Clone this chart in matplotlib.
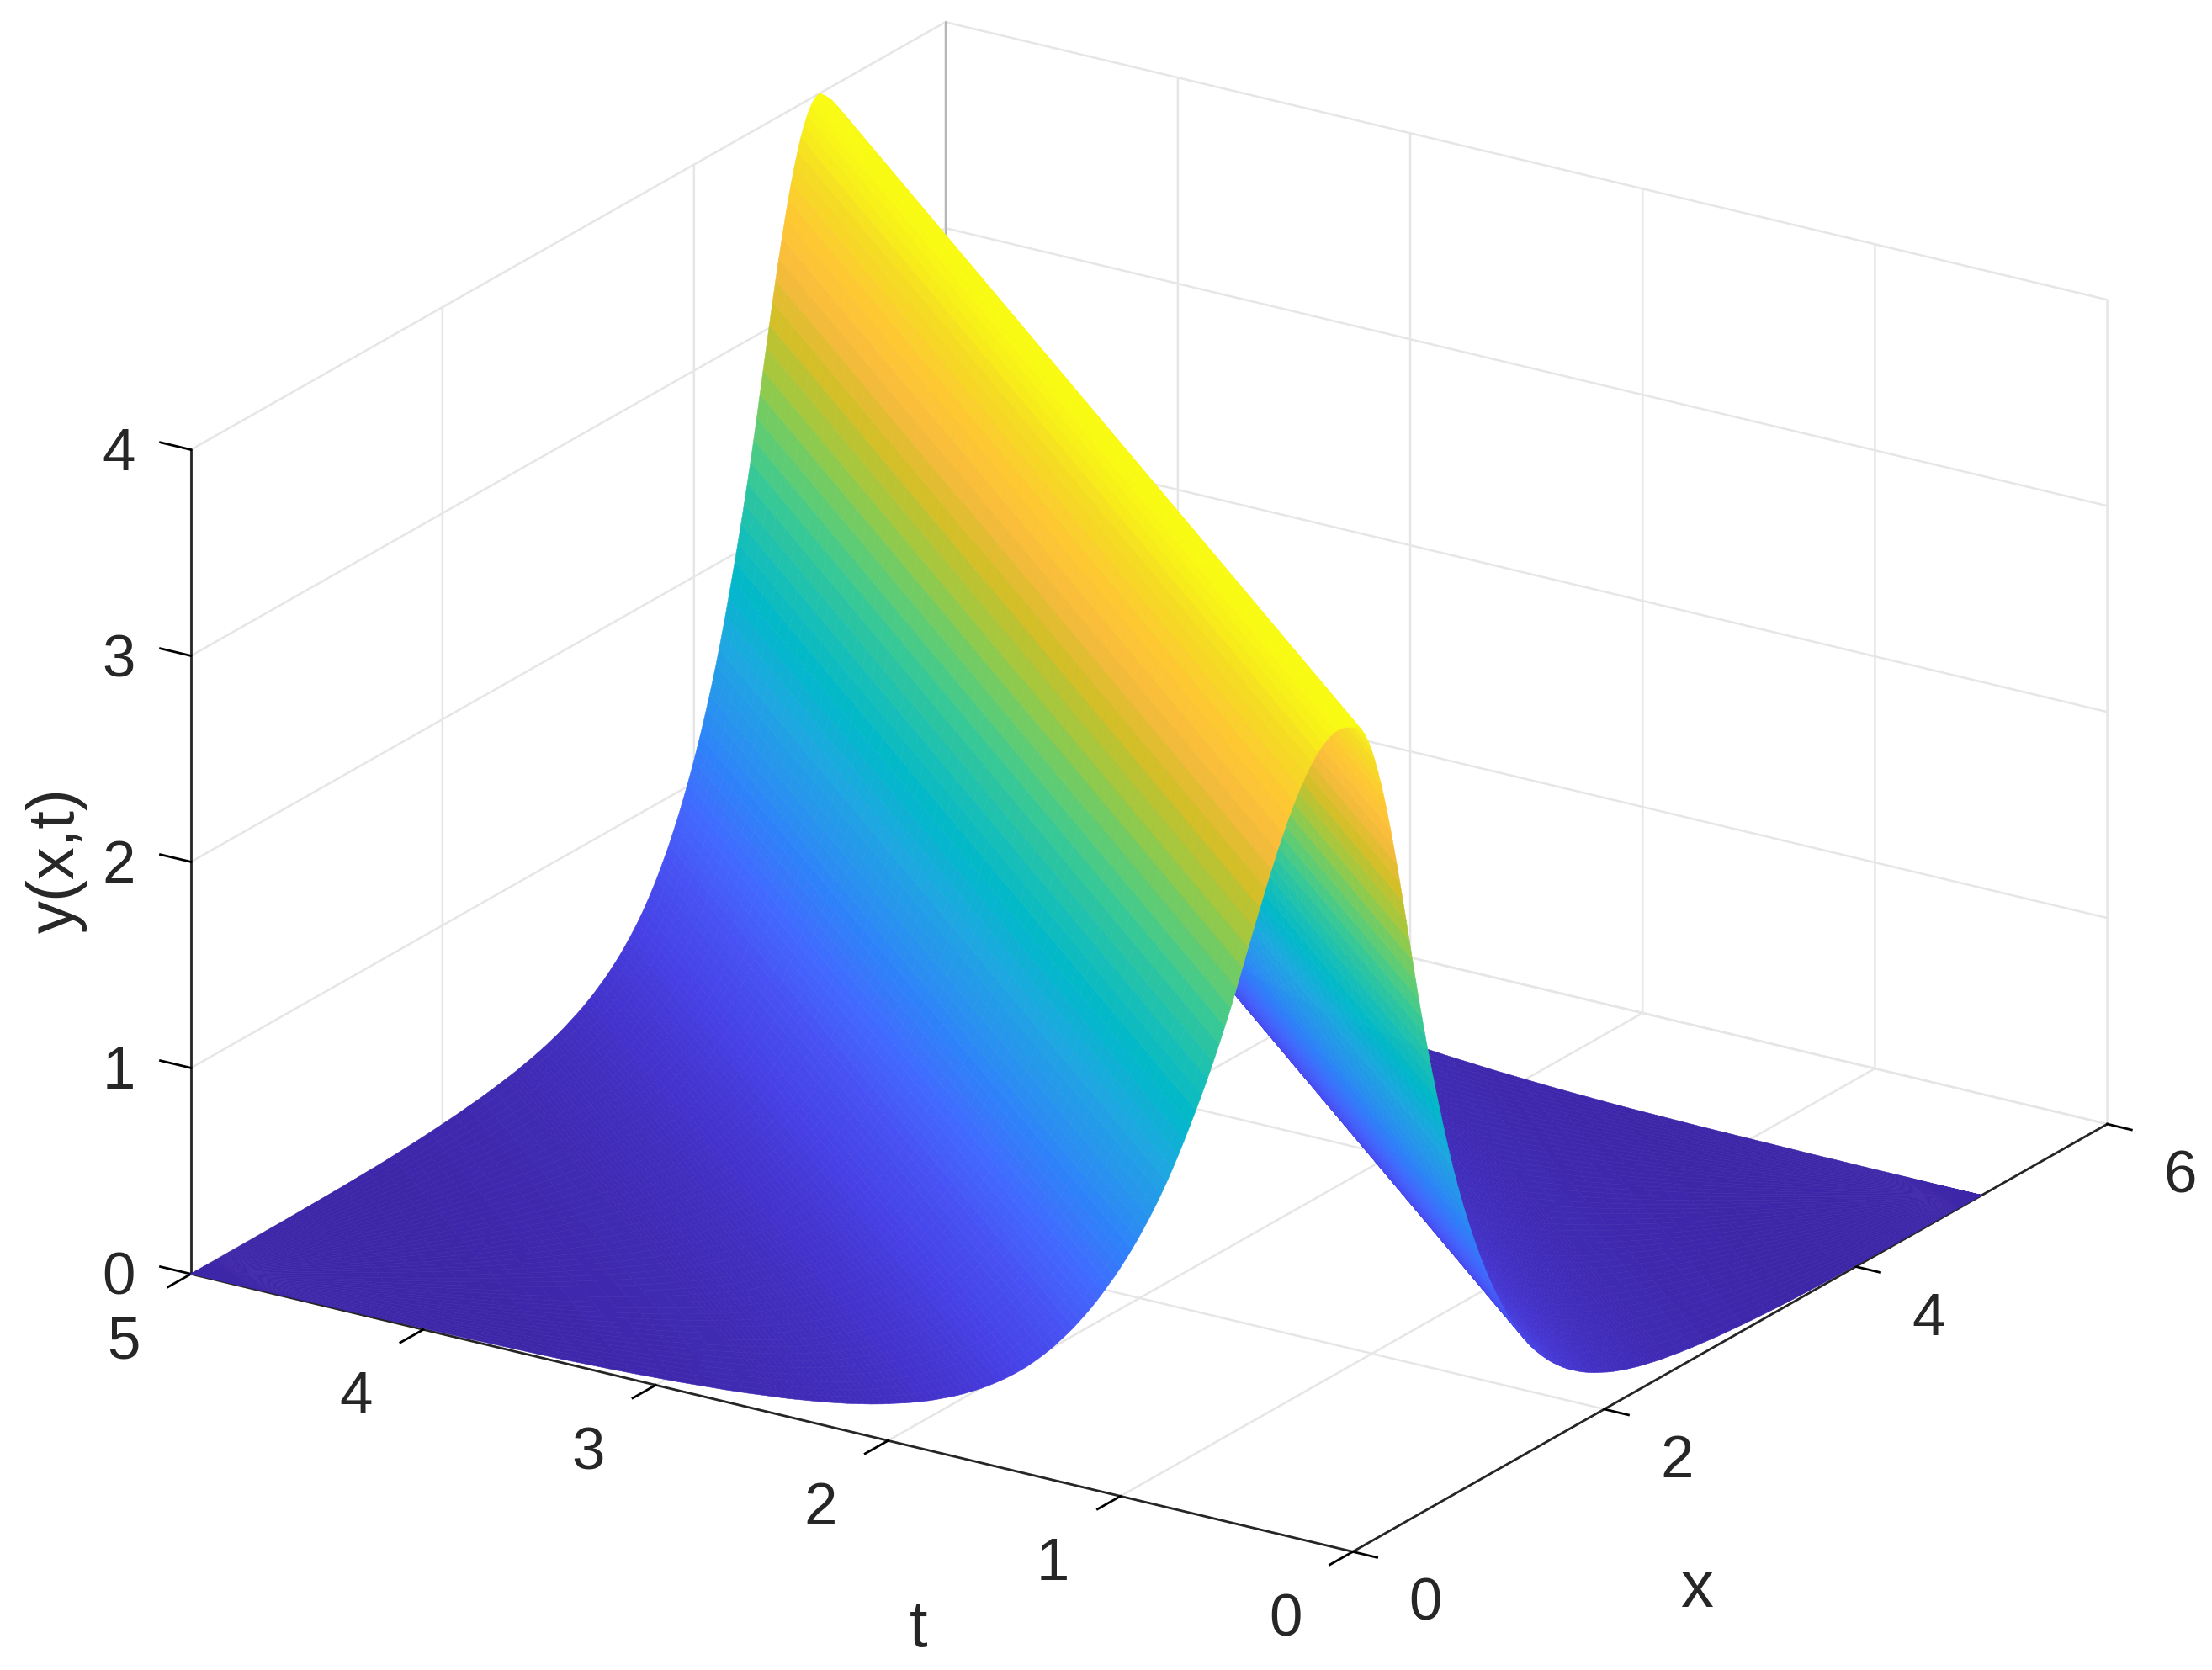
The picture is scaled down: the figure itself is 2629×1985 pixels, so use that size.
import numpy as np
import matplotlib
matplotlib.use('Agg')
import matplotlib.pyplot as plt
from matplotlib.colors import LinearSegmentedColormap

plt.rcParams['font.family'] = ['Liberation Sans', 'DejaVu Sans']

# ridge height against distance |x - t|
# step 0.025 up to 2.5, then step 0.1 out to 5
ridge_dist = np.concatenate([np.arange(101) * 0.025, 2.5 + np.arange(1, 26) * 0.1])
ridge_height = [
    4.000, 3.995, 3.982, 3.959, 3.927, 3.886, 3.838, 3.781, 3.717, 3.647,
    3.571, 3.489, 3.402, 3.311, 3.215, 3.117, 3.016, 2.914, 2.810, 2.705,
    2.600, 2.499, 2.402, 2.308, 2.217, 2.129, 2.044, 1.961, 1.881, 1.802,
    1.725, 1.651, 1.580, 1.512, 1.447, 1.385, 1.326, 1.268, 1.213, 1.160,
    1.109, 1.060, 1.014, 0.968, 0.924, 0.882, 0.842, 0.804, 0.766, 0.731,
    0.698, 0.665, 0.633, 0.604, 0.576, 0.549, 0.523, 0.499, 0.476, 0.455,
    0.434, 0.415, 0.396, 0.378, 0.361, 0.345, 0.330, 0.315, 0.301, 0.288,
    0.276, 0.264, 0.252, 0.241, 0.231, 0.221, 0.212, 0.203, 0.195, 0.187,
    0.179, 0.171, 0.164, 0.157, 0.151, 0.145, 0.139, 0.133, 0.128, 0.123,
    0.118, 0.113, 0.109, 0.105, 0.101, 0.097, 0.093, 0.089, 0.086, 0.083,
    0.080,
    0.068, 0.058, 0.050, 0.042, 0.036, 0.030, 0.025, 0.021, 0.017, 0.014,
    0.012, 0.010, 0.008, 0.007, 0.006, 0.005, 0.004, 0.003, 0.003, 0.002,
    0.002, 0.002, 0.001, 0.001, 0.001,
]

x_ticks = [0, 2, 4, 6]
t_ticks = [0, 1, 2, 3, 4, 5]
y_ticks = [0, 1, 2, 3, 4]

parula_colors = [
    (0.2422, 0.1504, 0.6603), (0.2647, 0.1978, 0.7952), (0.2783, 0.2559, 0.8991),
    (0.2810, 0.3228, 0.9579), (0.2602, 0.4123, 0.9952), (0.1834, 0.5074, 0.9798),
    (0.1540, 0.5902, 0.9218), (0.1113, 0.6635, 0.8763), (0.0036, 0.7203, 0.7917),
    (0.0964, 0.7500, 0.7120), (0.2161, 0.7843, 0.5923), (0.3909, 0.8029, 0.4354),
    (0.6174, 0.7876, 0.2612), (0.8203, 0.7498, 0.1535), (0.9728, 0.7298, 0.2394),
    (0.9952, 0.7861, 0.1967), (0.9610, 0.8634, 0.1357), (0.9769, 0.9839, 0.0805),
]
parula = LinearSegmentedColormap.from_list('parula', parula_colors)

# mesh follows the ridge: rows are lines x - t = const, columns go along each line
heights = np.array(ridge_height)
offset = np.concatenate([-ridge_dist[::-1], ridge_dist[1:]])
row_height = np.concatenate([heights[::-1], heights[1:]])
along = np.linspace(0, 1, 51)
line_len = 5 - np.abs(offset)
X = np.maximum(offset, 0)[:, None] + line_len[:, None] * along
T = np.maximum(-offset, 0)[:, None] + line_len[:, None] * along
Y = np.tile(row_height[:, None], (1, len(along)))

band = 0.5 * (row_height[:-1] + row_height[1:])
band = np.append(band, band[-1])
band_colors = parula(np.tile(band[:, None], (1, len(along))) / 4.0)

fig = plt.figure(figsize=(26.29, 19.85), dpi=100)
ax = fig.add_axes([0.1318, 0.0153, 0.755, 1.0], projection='3d', proj_type='ortho',
                  computed_zorder=False)
ax.set_box_aspect((1, 1, 0.64), zoom=1.25)
ax.view_init(elev=21.6, azim=-147)

surf = ax.plot_surface(X, T, Y, facecolors=band_colors, rstride=1, cstride=1,
                       shade=False, linewidth=0.4, antialiased=True, zorder=2)
surf.set_clip_on(False)

# darker back corner of the box
ax.plot([6, 6], [5, 5], [0, 4], color='#b4b4b4', linewidth=2.0, zorder=1)

ax.set_xlim(0, 6, view_margin=0)
ax.set_ylim(0, 5, view_margin=0)
ax.set_zlim(0, 4, view_margin=0)
ax.set_xticks(x_ticks)
ax.set_yticks(t_ticks)
ax.set_zticks(y_ticks)
ax.tick_params(labelsize=51, labelcolor='#262626', pad=28)
ax.tick_params(axis='y', pad=42)
ax.tick_params(axis='z', pad=20)

# z axis stays on the left, but its ticks should run along t
ax.zaxis._get_tickdir = lambda position: 1

for axis in (ax.xaxis, ax.yaxis, ax.zaxis):
    axis.set_pane_color((1, 1, 1, 1))
    axis.pane.set_edgecolor('#e2e2e2')
    axis.line.set_color('#262626')
    axis.line.set_linewidth(2.0)
    axis._axinfo['grid'].update(color='#e6e6e6', linewidth=1.8)

# the factor names read the other way round on the x and t edges
ax.xaxis._axinfo['tick'].update(inward_factor=0.26, outward_factor=0.0,
                                linewidth={True: 2.0, False: 2.0}, color='#333333')
ax.yaxis._axinfo['tick'].update(inward_factor=0.38, outward_factor=0.0,
                                linewidth={True: 2.0, False: 2.0}, color='#333333')
ax.zaxis._axinfo['tick'].update(inward_factor=0.0, outward_factor=0.33,
                                linewidth={True: 2.0, False: 2.0}, color='#333333')

for lab in ax.get_xticklabels():
    lab.set_ha('left')
    lab.set_va('center')
for lab in ax.get_yticklabels():
    lab.set_ha('right')
    lab.set_va('baseline')
for lab in ax.get_zticklabels():
    lab.set_va('center')

fig.text(1203 / 1568, 1 - 1127 / 1184, 'x', fontsize=56, color='#262626', ha='center', va='center')
fig.text(651 / 1568, 1 - 1155 / 1184, 't', fontsize=56, color='#262626', ha='center', va='center')
fig.text(40 / 1568, 1 - 610 / 1184, 'y(x,t)', fontsize=56, color='#262626', ha='center', va='center',
         rotation=90)

fig.savefig('out.png', dpi=100)
